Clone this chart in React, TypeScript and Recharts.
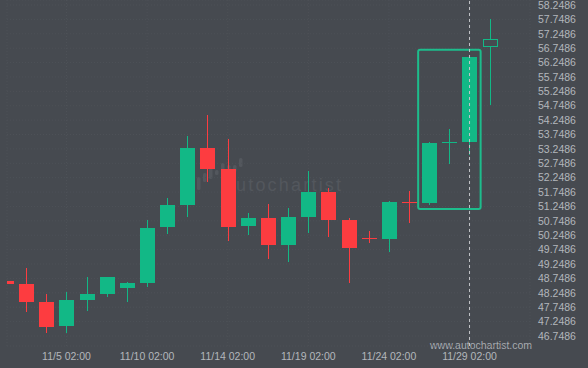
import React from 'react';
import {
  ComposedChart,
  Bar,
  XAxis,
  YAxis,
  CartesianGrid,
  ReferenceArea,
  ReferenceLine,
} from 'recharts';

const BG = '#464a50';
const UP = '#12b886';
const DOWN = '#fd3c40';
const TEXT = '#b3b7bc';
const FONT = '"Liberation Sans", Arial, sans-serif';

// daily candles, one date per candle (broker time 02:00)
const DATES = [
  '11/1', '11/3', '11/4', '11/5', '11/6', '11/7', '11/8', '11/10', '11/11',
  '11/12', '11/13', '11/14', '11/15', '11/17', '11/18', '11/19', '11/20',
  '11/21', '11/22', '11/24', '11/25', '11/26', '11/27', '11/29', '12/1',
];
const OPEN = [
  48.66, 48.55, 47.93, 47.11, 48.01, 48.22, 48.43, 48.6, 50.55, 51.3, 53.29,
  52.55, 50.57, 50.85, 49.91, 50.88, 51.75, 50.78, 50.16, 50.12, 51.41, 51.38,
  53.47, 53.5, 56.8,
];
const HIGH = [
  48.66, 49.11, 48.21, 48.28, 48.79, 48.8, 48.62, 50.77, 51.54, 53.7, 54.43,
  53.58, 51.01, 51.32, 51.19, 52.48, 51.88, 50.84, 50.39, 51.45, 51.78, 53.49,
  53.93, 56.43, 57.75,
];
const LOW = [
  48.57, 47.59, 46.84, 46.84, 47.63, 48.09, 47.94, 48.46, 50.28, 50.87, 52.09,
  50.06, 50.27, 49.41, 49.33, 50.34, 50.2, 48.6, 49.99, 49.68, 50.69, 51.31,
  52.71, 53.04, 54.76,
];
const CLOSE = [
  48.57, 47.94, 47.07, 48.0, 48.21, 48.8, 48.59, 50.5, 51.3, 53.28, 52.55,
  50.54, 50.85, 49.91, 50.88, 51.75, 50.78, 49.81, 50.14, 51.4, 51.39, 53.46,
  53.49, 56.43, 57.06,
];

const X_TICKS = [3, 7, 11, 15, 19, 23];
const Y_TICKS = [
  46.7486, 47.2486, 47.7486, 48.2486, 48.7486, 49.2486, 49.7486, 50.2486,
  50.7486, 51.2486, 51.7486, 52.2486, 52.7486, 53.2486, 53.7486, 54.2486,
  54.7486, 55.2486, 55.7486, 56.2486, 56.7486, 57.2486, 57.7486, 58.2486,
];

// detected pattern box (candle index range / price range) and its end marker
const PATTERN = { x1: 20.45, x2: 23.55, y1: 51.16, y2: 56.69 };
const MARKER_X = 23;

const data = DATES.map((d, i) => ({
  i,
  date: d,
  open: OPEN[i],
  high: HIGH[i],
  low: LOW[i],
  close: CLOSE[i],
  range: [LOW[i], HIGH[i]],
  live: i === DATES.length - 1,
}));

const Candle = (props: any) => {
  const { x, y, width, height, payload } = props;
  if (x == null || y == null) return null;
  const { open, high, low, close, live } = payload;
  const k = height / (high - low);
  const py = (v: number) => y + (high - v) * k;
  const color = close >= open ? UP : DOWN;
  const cx = Math.floor(x + width / 2);
  const top = Math.round(py(Math.max(open, close)));
  const bot = Math.max(top + 1, Math.round(py(Math.min(open, close))));
  const bx = Math.round(x);
  const wTop = Math.round(y);
  const wBot = Math.round(y + height);
  if (live) {
    return (
      <g>
        <rect x={cx} y={wTop} width={1} height={top - wTop} fill={color} />
        <rect x={cx} y={bot} width={1} height={wBot - bot} fill={color} />
        <rect x={bx + 0.5} y={top + 0.5} width={14} height={bot - top - 1} fill={BG} stroke={color} strokeWidth={1} />
      </g>
    );
  }
  return (
    <g>
      <rect x={cx} y={wTop} width={1} height={Math.max(1, wBot - wTop)} fill={color} />
      <rect x={bx} y={top} width={15} height={bot - top} fill={color} />
    </g>
  );
};

export default function App() {
  return (
    <div style={{ position: 'fixed', left: 0, top: 0, width: 588, height: 368, background: BG, overflow: 'hidden' }}>
      {/* watermark, behind the chart */}
      <svg width={50} height={36} style={{ position: 'absolute', left: 194, top: 156 }}>
        {[
          [3, 21, 13], [9, 17, 9], [15, 12, 11], [21, 14, 5],
          [27, 7, 9], [33, 9, 5], [39, 9, 7], [45, 2, 9],
        ].map(([bx, by, bh], n) => (
          <rect key={n} x={bx} y={by} width={3.5} height={bh} rx={1.5} fill="#53575d" />
        ))}
      </svg>
      <div
        style={{
          position: 'absolute', left: 236, top: 175, fontSize: 18, lineHeight: '20px',
          letterSpacing: 2.2, color: '#53575d', fontFamily: FONT,
        }}
      >
        utochartist
      </div>
      <div
        style={{
          position: 'absolute', left: 430, top: 339, fontSize: 10.5, lineHeight: '12px',
          color: '#a6aab0', fontFamily: FONT,
        }}
      >
        www.autochartist.com
      </div>

      <div style={{ position: 'absolute', left: 0, top: 0 }}>
        <ComposedChart
          width={588}
          height={368}
          data={data}
          margin={{ top: 0, right: 0, bottom: 0, left: 7 }}
        >
          <CartesianGrid stroke="#4d5157" strokeDasharray="1 2" />
          <XAxis
            type="number"
            dataKey="i"
            domain={[0.047, 26.0]}
            allowDataOverflow
            ticks={X_TICKS}
            interval={0}
            tickFormatter={(v: number) => `${DATES[v]} 02:00`}
            axisLine={false}
            tickLine={false}
            tickMargin={1}
            height={22}
            tick={{ fill: TEXT, fontSize: 10.5, fontFamily: FONT }}
          />
          <YAxis
            orientation="right"
            type="number"
            domain={[46.4002, 58.4223]}
            allowDataOverflow
            ticks={Y_TICKS}
            interval={0}
            tickFormatter={(v: number) => v.toFixed(4)}
            axisLine={false}
            tickLine={false}
            width={58}
            tick={{ fill: TEXT, fontSize: 10.5, fontFamily: FONT }}
          />
          <ReferenceLine x={MARKER_X} stroke="#c4c6c9" strokeDasharray="3 3" />
          <Bar dataKey="range" barSize={15} shape={<Candle />} isAnimationActive={false} />
          <ReferenceArea
            x1={PATTERN.x1}
            x2={PATTERN.x2}
            y1={PATTERN.y1}
            y2={PATTERN.y2}
            fill="none"
            fillOpacity={0}
            stroke="#1dbd8c"
            strokeWidth={2}
            radius={2}
          />
        </ComposedChart>
      </div>
    </div>
  );
}
